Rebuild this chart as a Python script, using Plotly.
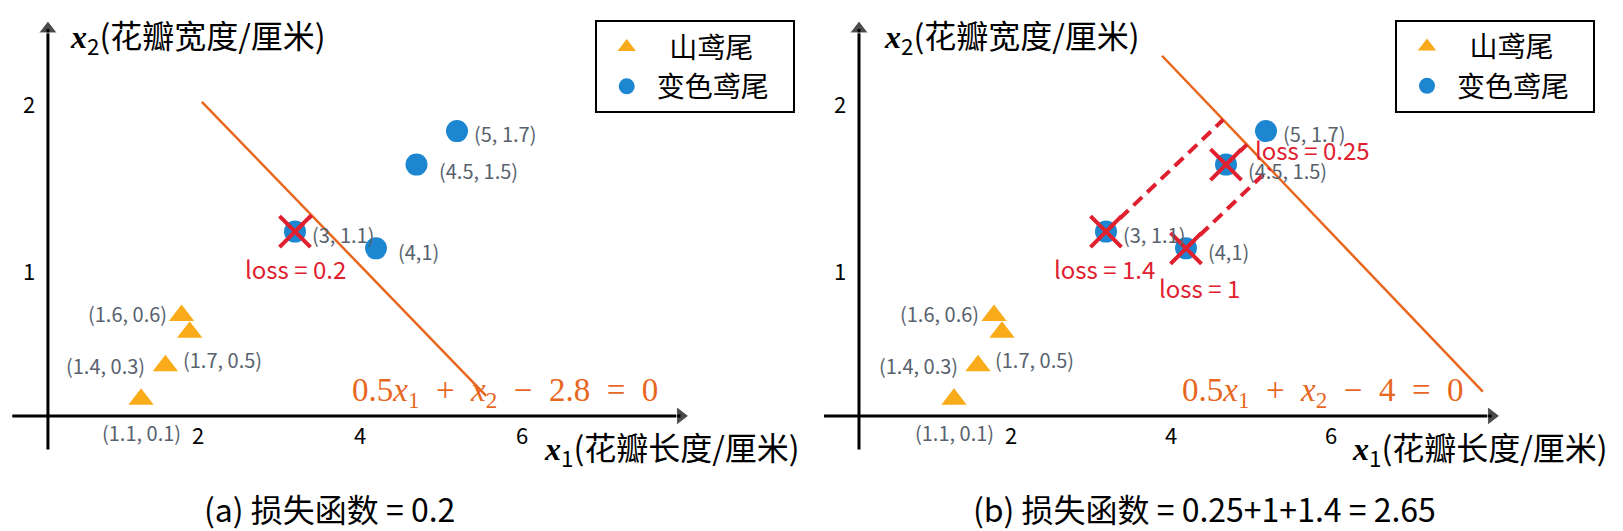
import plotly.graph_objects as go

# iris petal measurements: x1 = petal length, x2 = petal width (cm)
setosa_x = [1.1, 1.4, 1.6, 1.7]
setosa_y = [0.1, 0.3, 0.6, 0.5]
setosa_text = ["(1.1, 0.1)", "(1.4, 0.3)", "(1.6, 0.6)", "(1.7, 0.5)"]
versicolor_x = [3, 4, 4.5, 5]
versicolor_y = [1.1, 1.0, 1.5, 1.7]
versicolor_text = ["(3, 1.1)", "(4,1)", "(4.5, 1.5)", "(5, 1.7)"]

# decision boundary 0.5*x1 + x2 - b = 0, one per panel
boundary_w1 = [0.5, 0.5]
boundary_w2 = [1.0, 1.0]
boundary_b = [2.8, 4.0]
boundary_b_text = ["2.8", "4"]
boundary_x1 = [[1.85, 5.36], [3.70, 7.71]]  # extent of the drawn line

x_ticks = [2, 4, 6]
y_ticks = [1, 2]
captions = ["(a) 损失函数 = 0.2", "(b) 损失函数 = 0.25+1+1.4 = 2.65"]

ORANGE = "#E8671F"
RED = "#E0202F"
BLUE = "#1D86D1"
YELLOW = "#FAAB1A"
GRAY = "#58626E"
CJK = "Noto Sans CJK SC, Noto Sans"
SERIF = "Liberation Serif, DejaVu Serif"
NB = "\u00a0"

# label placement next to each point: (xanchor, xshift, yshift)
setosa_lbl = [("center", 0, -33), ("right", -18, 0), ("right", -13, 2), ("left", -9, -27)]
versi_lbl = [("left", 15, -3), ("left", 20, -3), ("left", 20, -6), ("left", 15, -2)]
# loss label placement per panel, keyed by versicolor index
loss_lbl = [{0: ("center", 0, -37)},
            {0: ("center", -2, -37), 1: ("center", 13, -39), 2: ("left", 27, 15)}]

panels = [
    dict(xa="x", ya="y", yaxis_x=-0.05, xaxis_from=-0.49, xaxis_to=7.76,
         xshift_tick=-16, cap_x=0.198, legend="legend", sx=81.0),
    dict(xa="x2", ya="y2", yaxis_x=-0.0875, xaxis_from=-0.525, xaxis_to=7.82,
         xshift_tick=-15, cap_x=0.737, legend="legend2", sx=80.0),
]
SY = 167.5

fig = go.Figure()
annotations = []

for p, pan in enumerate(panels):
    xa, ya = pan["xa"], pan["ya"]
    w1, w2, b = boundary_w1[p], boundary_w2[p], boundary_b[p]

    # axes drawn as lines ending in a triangle head
    fig.add_trace(go.Scatter(x=[pan["xaxis_from"], pan["xaxis_to"]], y=[0, 0], mode="lines+markers",
                             line=dict(color="black", width=3),
                             marker=dict(symbol=["circle", "triangle-right"], size=[0, 16], color="black"),
                             showlegend=False, hoverinfo="skip", xaxis=xa, yaxis=ya))
    fig.add_trace(go.Scatter(x=[pan["yaxis_x"], pan["yaxis_x"]], y=[-0.2, 2.31], mode="lines+markers",
                             line=dict(color="black", width=3),
                             marker=dict(symbol=["circle", "triangle-up"], size=[0, 16], color="black"),
                             showlegend=False, hoverinfo="skip", xaxis=xa, yaxis=ya))

    # boundary line
    bx = boundary_x1[p]
    by = [(b - w1 * v) / w2 for v in bx]
    fig.add_trace(go.Scatter(x=bx, y=by, mode="lines", line=dict(color=ORANGE, width=2.5),
                             showlegend=False, hoverinfo="skip", xaxis=xa, yaxis=ya))

    # points
    fig.add_trace(go.Scatter(x=setosa_x, y=setosa_y, mode="markers", name=NB * 2 + "山鸢尾" + NB * 3,
                             marker=dict(symbol="triangle-up", size=22, color=YELLOW),
                             legend=pan["legend"], xaxis=xa, yaxis=ya))
    fig.add_trace(go.Scatter(x=versicolor_x, y=versicolor_y, mode="markers", name="变色鸢尾" + NB * 3,
                             marker=dict(symbol="circle", size=22, color=BLUE),
                             legend=pan["legend"], xaxis=xa, yaxis=ya))

    # misclassified versicolor points: perpendicular to boundary (in screen space) + loss
    sx = pan["sx"]
    nx, ny = w1 / sx, w2 / SY
    nn = nx * nx + ny * ny
    bad_x, bad_y = [], []
    for i, (vx, vy) in enumerate(zip(versicolor_x, versicolor_y)):
        margin = w1 * vx + w2 * vy - b
        if margin >= 0:
            continue
        loss = round(-margin, 2)
        X, Y = vx * sx, vy * SY
        t = margin / nn
        fx, fy = (X - t * nx) / sx, (Y - t * ny) / SY
        fig.add_trace(go.Scatter(x=[vx, fx], y=[vy, fy], mode="lines",
                                 line=dict(color=RED, width=4, dash="12px,7px"),
                                 showlegend=False, hoverinfo="skip", xaxis=xa, yaxis=ya))
        bad_x.append(vx)
        bad_y.append(vy)
        anc, xs, ys = loss_lbl[p][i]
        annotations.append(dict(x=vx, y=vy, xref=xa, yref=ya, text=f"loss = {loss:g}",
                                showarrow=False, xanchor=anc, yanchor="middle", xshift=xs, yshift=ys,
                                font=dict(family=CJK, size=24, color=RED)))
    fig.add_trace(go.Scatter(x=bad_x, y=bad_y, mode="markers",
                             marker=dict(symbol="x-thin", size=31, line=dict(color=RED, width=4)),
                             showlegend=False, hoverinfo="skip", xaxis=xa, yaxis=ya))

    # point coordinate labels
    for xs_, ys_, txts, plc in [(setosa_x, setosa_y, setosa_text, setosa_lbl),
                                 (versicolor_x, versicolor_y, versicolor_text, versi_lbl)]:
        for vx, vy, t, (anc, dx, dy) in zip(xs_, ys_, txts, plc):
            annotations.append(dict(x=vx, y=vy, xref=xa, yref=ya, text=t, showarrow=False,
                                    xanchor=anc, yanchor="middle", xshift=dx, yshift=dy,
                                    font=dict(family=CJK, size=20, color=GRAY)))

    # tick labels
    for v in x_ticks:
        annotations.append(dict(x=v, y=0, xref=xa, yref=ya, text=str(v), showarrow=False,
                                xanchor="center", yanchor="middle",
                                xshift=pan["xshift_tick"], yshift=-18,
                                font=dict(family=CJK, size=22, color="black")))
    for v in y_ticks:
        annotations.append(dict(x=pan["yaxis_x"], y=v, xref=xa, yref=ya, text=str(v),
                                showarrow=False, xanchor="center", yanchor="middle",
                                xshift=-19, yshift=-22,
                                font=dict(family=CJK, size=22, color="black")))

    # axis titles
    annotations.append(dict(x=0.2, y=2.27, xref=xa, yref=ya, xanchor="left", yanchor="middle",
                            showarrow=False,
                            text=f"<span style='font-family:{SERIF}'><b><i>x</i></b></span>"
                                 "<sub>2</sub>(花瓣宽度/厘米)",
                            font=dict(family=CJK, size=32, color="black")))
    annotations.append(dict(x=6.05, y=-0.19, xref=xa, yref=ya, xanchor="left", yanchor="middle",
                            showarrow=False,
                            text=f"<span style='font-family:{SERIF}'><b><i>x</i></b></span>"
                                 "<sub>1</sub>(花瓣长度/厘米)",
                            font=dict(family=CJK, size=32, color="black")))

    # boundary equation
    sp = NB * 2
    eq = (f"0.5<i>x</i><sub>1</sub>{sp}+{sp}<i>x</i><sub>2</sub>{sp}\u2212{sp}"
          f"{boundary_b_text[p]}{sp}={sp}0")
    annotations.append(dict(x=7.5, y=0.14, xref=xa, yref=ya, xanchor="right", yanchor="middle",
                            showarrow=False, text=eq, font=dict(family=SERIF, size=33, color=ORANGE)))

    # caption
    annotations.append(dict(x=pan["cap_x"], y=1 - 500 / 531, xref="paper", yref="paper",
                            xanchor="center", yanchor="middle", showarrow=False,
                            text=captions[p], font=dict(family=CJK, size=32, color="black")))

legend_style = dict(xanchor="left", yanchor="top", bordercolor="black", borderwidth=2,
                    bgcolor="white", font=dict(family=CJK, size=28, color="black"),
                    itemwidth=50, tracegroupgap=0)

fig.update_layout(
    width=1623, height=531,
    margin=dict(l=0, r=0, t=0, b=0),
    paper_bgcolor="white", plot_bgcolor="white",
    xaxis=dict(domain=[0, 800 / 1623], range=[-0.543, 9.333], visible=False),
    yaxis=dict(domain=[0, 1], range=[-0.735, 2.435], visible=False),
    xaxis2=dict(domain=[800 / 1623, 1], range=[-0.725, 9.5625], visible=False),
    yaxis2=dict(domain=[0, 1], range=[-0.735, 2.435], visible=False, anchor="x2"),
    legend=dict(x=0.3615, y=0.977, **legend_style),
    legend2=dict(x=0.8546, y=0.978, **legend_style),
    annotations=annotations,
    showlegend=True,
)

fig.write_html("out.html")
